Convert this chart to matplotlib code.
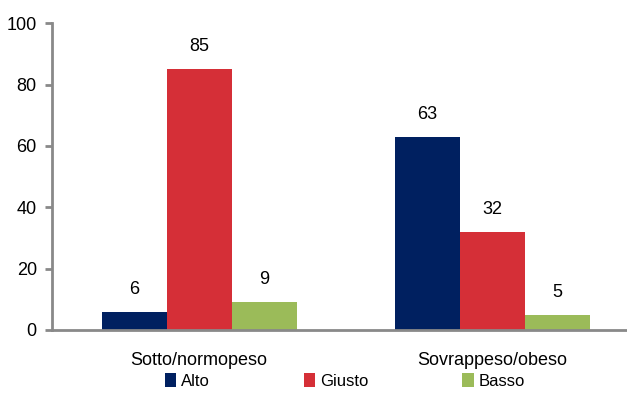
import matplotlib.pyplot as plt
import numpy as np

categories = ['Sotto/normopeso', 'Sovrappeso/obeso']
series = ['Alto', 'Giusto', 'Basso']
alto = [6, 63]
giusto = [85, 32]
basso = [9, 5]
colors = ['#002060', '#D52F37', '#9BBB59']

plt.rcParams['font.family'] = ['Liberation Sans Narrow', 'Liberation Sans', 'DejaVu Sans']

fig = plt.figure(figsize=(6.27, 3.99), dpi=100)
ax = fig.add_axes([0.083, 0.173, 0.917, 0.769])

x = np.arange(len(categories))
w = 0.222
for i, (name, vals) in enumerate(zip(series, [alto, giusto, basso])):
    bars = ax.bar(x + (i - 1) * w, vals, w, color=colors[i], label=name)
    for b, v in zip(bars, vals):
        ax.annotate(str(v), (b.get_x() + b.get_width() / 2, v),
                    xytext=(0, 10), textcoords='offset points',
                    ha='center', va='bottom', fontsize=13)

ax.set_xlim(-0.502, 1.46)
ax.set_ylim(0, 100)
ax.set_yticks(range(0, 101, 20))
ax.set_xticks(x)
ax.set_xticklabels(categories, fontsize=13)
ax.tick_params(axis='x', length=0, pad=16)
ax.tick_params(axis='y', labelsize=13, length=5, width=2, color='#898989', pad=6)
for s in ['top', 'right']:
    ax.spines[s].set_visible(False)
for s in ['left', 'bottom']:
    ax.spines[s].set_color('#898989')
    ax.spines[s].set_linewidth(2)

fig.legend(loc='center', bbox_to_anchor=(0.55, 0.045), ncol=3, frameon=False,
           fontsize=12, handlelength=0.7, handleheight=0.9, handletextpad=0.3,
           columnspacing=5.6)

plt.savefig('out.png', dpi=100)
